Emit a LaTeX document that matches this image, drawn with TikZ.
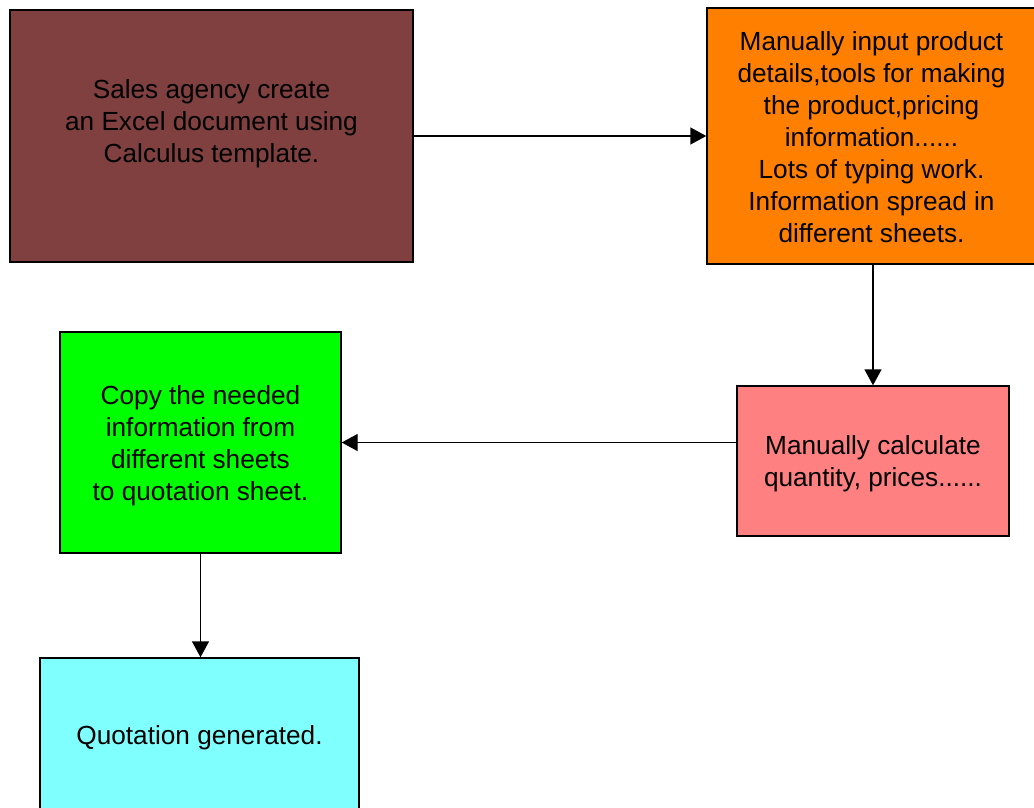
\documentclass[tikz,border=0pt]{standalone}
\usepackage{fontspec}
\setmainfont{Liberation Sans}
\usepackage{tikz}
\usetikzlibrary{arrows.meta}

\definecolor{agencybrown}{HTML}{804040}
\definecolor{inputorange}{HTML}{FF8000}
\definecolor{calcpink}{HTML}{FF8080}
\definecolor{copygreen}{HTML}{00FF00}
\definecolor{quotecyan}{HTML}{80FFFF}

\begin{document}
\begin{tikzpicture}[
	x=1pt, y=-1pt,
	stage/.style={rectangle, draw=black, line width=1.4pt, inner sep=0pt},
	txt/.style={inner sep=0pt, align=center, font=\fontsize{26.2}{32}\selectfont},
	flow/.style={draw=black, line width=1.4pt, -{Triangle[length=16pt,width=17pt]}}
	]
	\useasboundingbox (0,0) rectangle (1034,807);
	% boxes
	\node (agency) [stage, fill=agencybrown, minimum width=403pt, minimum height=252pt] at (211.5,136) {};
	\node (details) [stage, fill=inputorange, minimum width=329pt, minimum height=256pt] at (871.5,136) {};
	\node (calc) [stage, fill=calcpink, minimum width=272pt, minimum height=150pt] at (873,461) {};
	\node (copy) [stage, fill=copygreen, minimum width=281pt, minimum height=221pt] at (200.5,442.5) {};
	\node (quote) [stage, fill=quotecyan, minimum width=319pt, minimum height=151pt] at (199.5,733.5) {};
	% texts
	\node (agencytxt) [txt] at ([yshift=12.5pt]agency.center) {Sales agency create\\an Excel document using\\Calculus template.};
	\node (detailstxt) [txt] at ([yshift=-1.5pt]details.center)
		{Manually input product\\details,tools for making\\the product,pricing\\information......\\Lots of typing work.\\Information spread in\\different sheets.};
	\node (calctxt) [txt] at ([yshift=-3pt]calc.center) {Manually calculate\\quantity, prices......};
	\node (copytxt) [txt] at ([yshift=-3pt]copy.center)
		{Copy the needed\\information from\\different sheets\\to quotation sheet.};
	\node (quotetxt) [txt] at ([yshift=-4pt]quote.center) {Quotation generated.};
	% connectors
	\draw[flow] (agency.east) -- (details.west);
	\draw[flow] (details.south -| calc.north) -- (calc.north);
	\draw[flow] (calc.west |- copy.east) -- (copy.east);
	\draw[flow] (copy.south) -- (copy.south |- quote.north);
\end{tikzpicture}
\end{document}
